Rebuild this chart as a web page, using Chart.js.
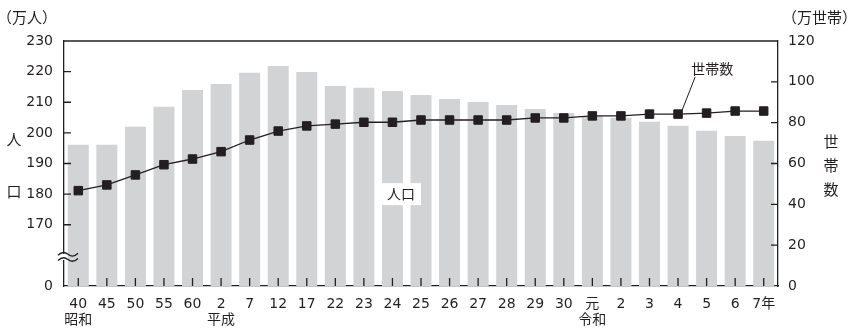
<!DOCTYPE html>
<html>
<head>
<meta charset="utf-8">
<script src="https://cdn.jsdelivr.net/npm/chart.js@4"></script>
<style>
  body { margin: 0; background: #fff; }
  #wrap { width: 857px; height: 331px; position: relative; }
</style>
</head>
<body>
<div id="wrap"><canvas id="myChart"></canvas></div>
<script>
const labels = [['40', '昭和'], '45', '50', '55', '60', ['2', '平成'], '7', '12', '17', '22', '23', '24', '25',
  '26', '27', '28', '29', '30', ['元', '令和'], '2', '3', '4', '5', '6', '7年'];
// 人口 (万人)
const population = [196.1, 196.1, 202.0, 208.5, 214.0, 216.0, 219.6, 221.8, 219.9, 215.3, 214.7, 213.7, 212.4,
  211.1, 210.1, 209.1, 207.8, 206.5, 205.5, 204.9, 203.6, 202.3, 200.7, 199.0, 197.4];
// 世帯数 (万世帯)
const households = [46.7, 49.5, 54.4, 59.4, 62.2, 65.8, 71.5, 75.9, 78.4, 79.3, 80.2, 80.2, 81.3,
  81.3, 81.3, 81.3, 82.3, 82.3, 83.3, 83.3, 84.2, 84.2, 84.7, 85.7, 85.7];
const popTicks = [170, 180, 190, 200, 210, 220];
const hhTicks = [20, 40, 60, 80, 100];

const ink = '#231f20';
const barGray = '#d1d3d4';
const numFont = "'DejaVu Sans', 'Noto Sans CJK JP', sans-serif";
const jpFont = "'Noto Sans CJK JP', sans-serif";

// inward ticks, axis break, labels
const decorations = {
  id: 'decorations',
  afterDraw(chart) {
    const { ctx, chartArea: { top, bottom, left, right }, scales: { x, y, y1 } } = chart;
    ctx.save();
    ctx.strokeStyle = ink;
    ctx.lineWidth = 1.3;

    // top frame
    ctx.beginPath();
    ctx.moveTo(left, top);
    ctx.lineTo(right, top);
    ctx.stroke();

    ctx.beginPath();
    popTicks.forEach(v => {
      const py = y.getPixelForValue(v);
      ctx.moveTo(left, py);
      ctx.lineTo(left + 7, py);
    });
    hhTicks.forEach(v => {
      const py = y1.getPixelForValue(v);
      ctx.moveTo(right, py);
      ctx.lineTo(right - 7, py);
    });
    labels.forEach((l, i) => {
      const px = x.getPixelForValue(i);
      ctx.moveTo(px, bottom);
      ctx.lineTo(px, bottom - 8);
    });
    ctx.stroke();

    // axis break
    const by = y.getPixelForValue(159.5);
    ctx.fillStyle = '#fff';
    ctx.fillRect(left - 2, by - 3, 4, 6);
    ctx.beginPath();
    [-2.6, 2.6].forEach(k => {
      ctx.moveTo(left - 6, by + k + 1);
      ctx.quadraticCurveTo(left - 1, by + k - 4, left + 4, by + k);
      ctx.quadraticCurveTo(left + 9, by + k + 4, left + 14, by + k - 1);
    });
    ctx.stroke();

    // 人口 label
    const px = x.getPixelForValue(11.3);
    const py = y.getPixelForValue(180);
    ctx.fillStyle = '#fff';
    ctx.fillRect(px - 20, py - 11, 40, 22);
    ctx.fillStyle = ink;
    ctx.font = '14px ' + jpFont;
    ctx.textAlign = 'center';
    ctx.textBaseline = 'middle';
    ctx.fillText('人口', px, py);

    // 世帯数 label with leader
    const hx = x.getPixelForValue(22.2);
    const hy = y1.getPixelForValue(106.3);
    ctx.fillText('世帯数', hx, hy);
    ctx.lineWidth = 1;
    ctx.beginPath();
    ctx.moveTo(x.getPixelForValue(21.6), y1.getPixelForValue(102.4));
    ctx.lineTo(x.getPixelForValue(21.1), y1.getPixelForValue(84.6));
    ctx.stroke();

    // units
    ctx.font = '15px ' + jpFont;
    ctx.textAlign = 'left';
    ctx.fillText('（万人）', -3, 17);
    ctx.fillText('（万世帯）', 782, 17);

    // vertical axis titles
    ctx.font = '15px ' + jpFont;
    ctx.textAlign = 'center';
    ctx.fillText('人', 14, 139);
    ctx.fillText('口', 14, 191);
    ctx.fillText('世', 831, 141);
    ctx.fillText('帯', 831, 165);
    ctx.fillText('数', 831, 189);
    ctx.restore();
  }
};

const data = {
  labels: labels,
  datasets: [
    {
      type: 'line',
      label: '世帯数',
      data: households,
      yAxisID: 'y1',
      order: 0,
      borderColor: ink,
      borderWidth: 1.3,
      pointStyle: 'rect',
      pointRadius: 6,
      pointBackgroundColor: ink,
      pointBorderColor: ink,
      pointBorderWidth: 1,
      tension: 0
    },
    {
      type: 'bar',
      label: '人口',
      data: population,
      yAxisID: 'y',
      order: 1,
      backgroundColor: barGray,
      categoryPercentage: 1,
      barPercentage: 0.735
    }
  ]
};

const config = {
  data,
  options: {
    responsive: true,
    maintainAspectRatio: false,
    animation: false,
    layout: { padding: { top: 41, left: 0, right: 0, bottom: 0 } },
    plugins: { legend: { display: false }, tooltip: { enabled: false } },
    scales: {
      x: {
        offset: true,
        grid: { display: false, drawTicks: false },
        border: { display: true, color: ink, width: 1.3 },
        ticks: {
          color: ink, padding: 10, maxRotation: 0, autoSkip: false,
          font: { family: numFont, size: 14, lineHeight: 1.15 }
        },
        afterFit(s) { s.height = 45; }
      },
      y: {
        position: 'left',
        min: 150,
        max: 230,
        grid: { display: false, drawTicks: false },
        border: { display: true, color: ink, width: 1.3 },
        ticks: {
          stepSize: 10, color: ink, padding: 11,
          font: { family: numFont, size: 14 },
          callback: v => v === 150 ? '0' : (v === 160 ? '' : v)
        },
        afterFit(s) { s.width = 64; }
      },
      y1: {
        position: 'right',
        min: 0,
        max: 120,
        grid: { display: false, drawTicks: false },
        border: { display: true, color: ink, width: 1.3 },
        ticks: {
          stepSize: 20, color: ink, padding: 10,
          font: { family: numFont, size: 14 }
        },
        afterFit(s) { s.width = 79; }
      }
    }
  },
  plugins: [decorations]
};

const myChart = new Chart(document.getElementById('myChart'), config);
</script>
</body>
</html>
